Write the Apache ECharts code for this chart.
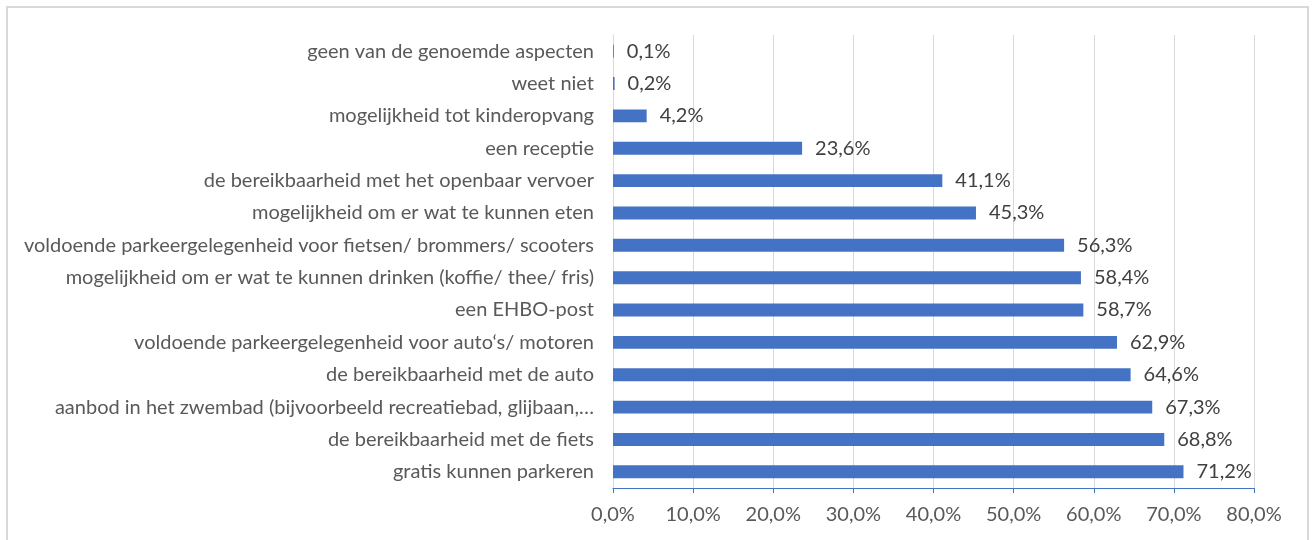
<!DOCTYPE html>
<html><head><meta charset="utf-8">
<script src="https://cdn.jsdelivr.net/npm/echarts@6/dist/echarts.min.js"></script>
<style>
html,body{margin:0;padding:0;background:#fff;}
#frame{position:absolute;left:6px;top:6px;width:1303px;height:560px;border:2px solid #D9D9D9;box-sizing:border-box;}
#c{position:absolute;left:0;top:0;width:1314px;height:540px;}
</style></head>
<body>
<div id="frame"></div>
<div id="c"></div>
<script>
const categories = [
  "gratis kunnen parkeren",
  "de bereikbaarheid met de fiets",
  "aanbod in het zwembad (bijvoorbeeld recreatiebad, glijbaan,…",
  "de bereikbaarheid met de auto",
  "voldoende parkeergelegenheid voor auto‘s/ motoren",
  "een EHBO-post",
  "mogelijkheid om er wat te kunnen drinken (koffie/ thee/ fris)",
  "voldoende parkeergelegenheid voor fietsen/ brommers/ scooters",
  "mogelijkheid om er wat te kunnen eten",
  "de bereikbaarheid met het openbaar vervoer",
  "een receptie",
  "mogelijkheid tot kinderopvang",
  "weet niet",
  "geen van de genoemde aspecten"
];
const values = [71.2, 68.8, 67.3, 64.6, 62.9, 58.7, 58.4, 56.3, 45.3, 41.1, 23.6, 4.2, 0.2, 0.1];
const xTicks = [0, 10, 20, 30, 40, 50, 60, 70, 80];

const fmt = v => v.toFixed(1).replace('.', ',') + '%';
const font = 'Lato';
const fs = 20;
const chart = echarts.init(document.getElementById('c'));
chart.setOption({
  animation: false,
  grid: {left: 613, right: 60, top: 35, bottom: 52, containLabel: false},
  xAxis: [{
    type: 'value', min: xTicks[0], max: xTicks[xTicks.length-1], interval: 10,
    axisLine: {show: false}, axisTick: {show: false},
    splitLine: {show: true, lineStyle: {color: '#D9D9D9', width: 1}},
    axisLabel: {formatter: v => fmt(v), color: '#595959', fontFamily: font, fontSize: fs, margin: 17}
  }, {
    type: 'value', min: xTicks[0], max: xTicks[xTicks.length-1], interval: 10, position: 'bottom',
    axisLine: {show: true, lineStyle: {color: '#4472C4', width: 1}},
    axisTick: {show: true, inside: false, length: 5, lineStyle: {color: '#4472C4'}},
    splitLine: {show: false}, axisLabel: {show: false}
  }],
  yAxis: {
    type: 'category', data: categories,
    axisLine: {show: true, lineStyle: {color: '#D9D9D9'}},
    axisTick: {show: false},
    axisLabel: {color: '#595959', fontFamily: font, fontSize: fs, margin: 19}
  },
  series: [{
    type: 'bar', data: values, barWidth: '40%', xAxisIndex: 0,
    itemStyle: {color: '#4472C4'},
    label: {show: true, position: 'right', distance: 13, formatter: p => fmt(p.value),
      color: '#404040', fontFamily: font, fontSize: fs}
  }]
});
</script>
</body></html>
